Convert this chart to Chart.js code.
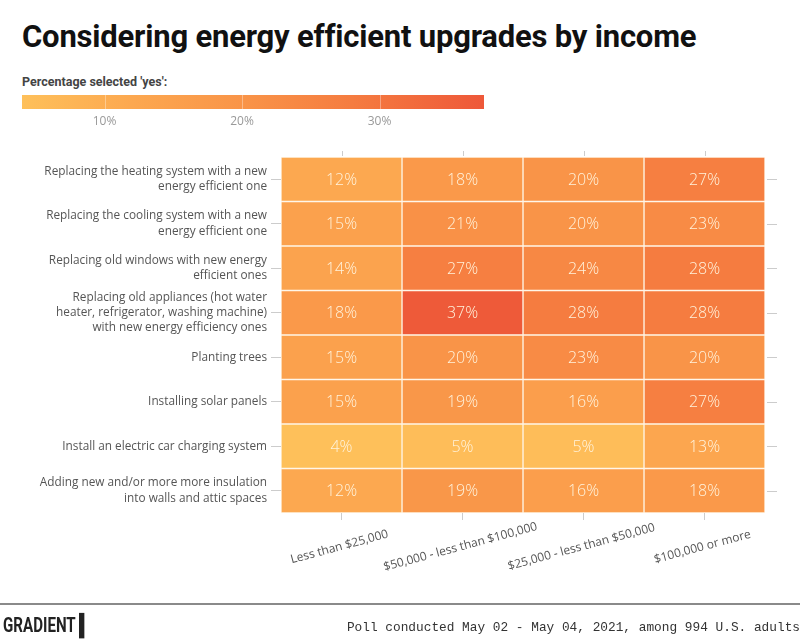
<!DOCTYPE html>
<html>
<head>
<meta charset="utf-8">
<script src="https://cdn.jsdelivr.net/npm/chart.js@4.4.0/dist/chart.umd.min.js"></script>
<style>
    body { margin: 0; width: 800px; height: 640px; position: relative; background: #fff; overflow: hidden; font-family: 'Open Sans', 'Noto Sans', sans-serif; }
    #title { position: absolute; left: 22px; top: 18px; font: bold 31px 'Liberation Sans Narrow', 'Roboto', sans-serif; color: #111; white-space: nowrap; letter-spacing: -0.2px; }
    #legendTitle { position: absolute; left: 22px; top: 74px; font: bold 12.5px 'Liberation Sans Narrow', 'Roboto', sans-serif; color: #444; }
    #legendBar { position: absolute; left: 22px; top: 95px; width: 462px; height: 14px; }
    .legendTick { position: absolute; top: 112px; font-size: 12px; color: #999; transform: translateX(-50%); }
    .legendLine { position: absolute; top: 95px; width: 1px; height: 14px; background: rgba(255,255,255,0.35); }
    #chart { position: absolute; left: 0; top: 0; }
    #footerLine { position: absolute; left: 0; top: 603px; width: 800px; height: 2px; background: #8a8a8a; }
    #logo { position: absolute; left: 3px; top: 613px; font: bold 21px 'Roboto', sans-serif; color: #222; letter-spacing: 0px; transform: scaleX(0.72); transform-origin: left top; white-space: nowrap; }
    #source { position: absolute; right: 0; top: 620px; font: 12.8px 'Liberation Mono', 'DejaVu Sans Mono', monospace; color: #333; white-space: nowrap; }
</style>
</head>
<body>
<div id="title">Considering energy efficient upgrades by income</div>
<div id="legendTitle">Percentage selected 'yes':</div>
<div id="legendBar"></div>
<canvas id="chart" width="800" height="640"></canvas>
<div id="footerLine"></div>
<div id="logo">GRADIENT ▌</div>
<div id="source">Poll conducted May 02 - May 04, 2021, among 994 U.S. adults</div>

<script>
// ===== dati =====
const upgrades = [
    ['Replacing the heating system with a new', 'energy efficient one'],
    ['Replacing the cooling system with a new', 'energy efficient one'],
    ['Replacing old windows with new energy', 'efficient ones'],
    ['Replacing old appliances (hot water', 'heater, refrigerator, washing machine)', 'with new energy efficiency ones'],
    'Planting trees',
    'Installing solar panels',
    'Install an electric car charging system',
    ['Adding new and/or more more insulation', 'into walls and attic spaces']
];
const incomeGroups = ['Less than $25,000', '$50,000 - less than $100,000', '$25,000 - less than $50,000', '$100,000 or more'];

const lessThan25k  = [12, 15, 14, 18, 15, 15, 4, 12];
const from50to100k = [18, 21, 27, 37, 20, 19, 5, 19];
const from25to50k  = [20, 20, 24, 28, 23, 16, 5, 16];
const over100k     = [27, 23, 28, 28, 20, 27, 13, 18];

const legendTicks = [10, 20, 30];
const colorMin = 4;
const colorMax = 37.6;

// scala colori (giallo -> rosso arancio)
const colorStops = [
    [4, [254, 192, 90]],
    [12, [252, 168, 80]],
    [20, [249, 148, 72]],
    [28, [245, 124, 64]],
    [37.6, [238, 88, 57]]
];

function colorFor(v) {
    if (v <= colorStops[0][0]) return rgb(colorStops[0][1]);
    for (let i = 1; i < colorStops.length; i++) {
        const [v1, c1] = colorStops[i];
        const [v0, c0] = colorStops[i - 1];
        if (v <= v1) {
            const t = (v - v0) / (v1 - v0);
            return rgb(c0.map((c, k) => c + (c1[k] - c) * t));
        }
    }
    return rgb(colorStops[colorStops.length - 1][1]);
}
function rgb(c) { return `rgb(${c.map(Math.round).join(',')})`; }

// ===== legenda =====
const legendBar = document.getElementById('legendBar');
const pct = v => ((v - colorMin) / (colorMax - colorMin) * 100).toFixed(2) + '%';
legendBar.style.background = 'linear-gradient(to right, ' +
    colorStops.map(s => `${rgb(s[1])} ${pct(s[0])}`).join(', ') + ')';
legendTicks.forEach(t => {
    const x = 22 + (t - colorMin) / (colorMax - colorMin) * 462;
    const line = document.createElement('div');
    line.className = 'legendLine';
    line.style.left = x + 'px';
    document.body.appendChild(line);
    const lab = document.createElement('div');
    lab.className = 'legendTick';
    lab.style.left = x + 'px';
    lab.textContent = t + '%';
    document.body.appendChild(lab);
});

// ===== heatmap =====
const columns = [lessThan25k, from50to100k, from25to50k, over100k];
const datasets = columns.map((vals, c) => ({
    label: incomeGroups[c],
    data: vals.map(() => [c, c + 1]),
    values: vals,
    backgroundColor: vals.map(colorFor),
    borderColor: 'rgba(255, 244, 228, 0.95)',
    borderWidth: 1,
    borderSkipped: false,
    barPercentage: 1,
    categoryPercentage: 1
}));

const cellLabels = {
    id: 'cellLabels',
    afterDatasetsDraw(chart) {
        const ctx = chart.ctx;
        ctx.save();
        ctx.font = '300 16px "Open Sans", "Noto Sans", sans-serif';
        ctx.fillStyle = '#fff3dc';
        ctx.textAlign = 'center';
        ctx.textBaseline = 'middle';
        chart.data.datasets.forEach((ds, di) => {
            chart.getDatasetMeta(di).data.forEach((bar, i) => {
                const p = bar.getCenterPoint();
                ctx.fillText(ds.values[i] + '%', p.x, p.y + 1);
            });
        });
        ctx.restore();
    }
};

const extraAxes = {
    id: 'extraAxes',
    afterDraw(chart) {
        const ctx = chart.ctx;
        const area = chart.chartArea;
        const xs = chart.scales.x;
        const ys = chart.scales.y;
        ctx.save();
        ctx.strokeStyle = '#cccccc';
        ctx.lineWidth = 1;
        // tacche in alto e a destra
        xs.ticks.forEach(t => {
            const x = Math.round(xs.getPixelForValue(t.value)) + 0.5;
            ctx.beginPath();
            ctx.moveTo(x, area.top - 6);
            ctx.lineTo(x, area.top - 1);
            ctx.stroke();
        });
        ys.ticks.forEach((t, i) => {
            const y = Math.round(ys.getPixelForTick(i)) + 0.5;
            ctx.beginPath();
            ctx.moveTo(area.right + 2, y);
            ctx.lineTo(area.right + 12, y);
            ctx.stroke();
        });
        // etichette asse x ruotate e centrate
        ctx.font = '12px "Open Sans", "Noto Sans", sans-serif';
        ctx.fillStyle = '#555';
        ctx.textAlign = 'center';
        ctx.textBaseline = 'middle';
        xs.ticks.forEach((t, i) => {
            const x = xs.getPixelForValue(t.value);
            ctx.save();
            ctx.translate(x - 2, area.bottom + 34);
            ctx.rotate(-15 * Math.PI / 180);
            ctx.fillText(incomeGroups[i], 0, 0);
            ctx.restore();
        });
        ctx.restore();
    }
};

new Chart(document.getElementById('chart'), {
    type: 'bar',
    data: { labels: upgrades, datasets: datasets },
    options: {
        indexAxis: 'y',
        responsive: false,
        animation: false,
        layout: { padding: { top: 157, right: 35, left: 0, bottom: 0 } },
        plugins: { legend: { display: false }, tooltip: { enabled: false } },
        scales: {
            x: {
                type: 'linear',
                min: 0,
                max: 4,
                afterBuildTicks: s => { s.ticks = incomeGroups.map((_, i) => ({ value: i + 0.5 })); },
                afterFit: s => { s.height = 127; },
                ticks: { display: false },
                grid: { drawOnChartArea: false, drawTicks: true, tickLength: 7, color: '#cccccc' },
                border: { display: false }
            },
            y: {
                type: 'category',
                stacked: true,
                afterFit: s => { s.width = 281; },
                ticks: {
                    autoSkip: false,
                    color: '#555',
                    font: { size: 11.8, family: '"Open Sans", "Noto Sans", sans-serif', lineHeight: 1.3 },
                    padding: 4
                },
                grid: { drawOnChartArea: false, offset: false, tickLength: 10, color: '#cccccc' },
                border: { display: false }
            }
        }
    },
    plugins: [cellLabels, extraAxes]
});
</script>
</body>
</html>
